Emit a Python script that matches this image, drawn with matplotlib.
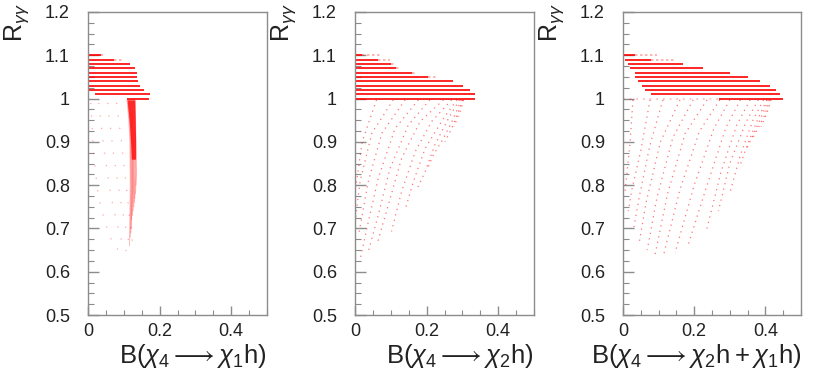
import matplotlib
matplotlib.use("Agg")
import matplotlib.pyplot as plt
from matplotlib.ticker import MultipleLocator, FuncFormatter

plt.rcParams["font.family"] = ["Liberation Sans", "DejaVu Sans"]
plt.rcParams["mathtext.fontset"] = "custom"
plt.rcParams["mathtext.rm"] = "Liberation Sans"
plt.rcParams["mathtext.it"] = "Liberation Sans:italic"
plt.rcParams["mathtext.fallback"] = "stixsans"

# ---------------------------------------------------------------------------
# Data
# ---------------------------------------------------------------------------

LEVELS = [1.00, 1.01, 1.02, 1.03, 1.04, 1.05, 1.06, 1.07, 1.08, 1.09, 1.10]

# horizontal bands: dense part (start / end) and faint tail for each level
P1_START = [0.109, 0.020, 0.0, 0.0, 0.0, 0.0, 0.0, 0.0, 0.0, 0.0, 0.0]
P1_END   = [0.170, 0.173, 0.157, 0.146, 0.140, 0.137, 0.137, 0.132, 0.118, 0.072, 0.035]
P1_TAIL  = [0.170, 0.173, 0.157, 0.146, 0.140, 0.137, 0.137, 0.132, 0.118, 0.095, 0.043]

P2_START = [0.0] * 11
P2_END   = [0.335, 0.335, 0.321, 0.302, 0.274, 0.205, 0.160, 0.115, 0.100, 0.065, 0.020]
P2_TAIL  = [0.335, 0.335, 0.321, 0.302, 0.274, 0.232, 0.172, 0.126, 0.115, 0.098, 0.070]

P3_START = [0.270, 0.079, 0.062, 0.052, 0.043, 0.034, 0.034, 0.020, 0.015, 0.006, 0.0]
P3_END   = [0.449, 0.441, 0.430, 0.413, 0.385, 0.350, 0.300, 0.225, 0.169, 0.080, 0.035]
P3_TAIL  = [0.449, 0.441, 0.430, 0.413, 0.385, 0.350, 0.300, 0.225, 0.169, 0.146, 0.095]
P3_HEAD  = [0.000, 0.079, 0.062, 0.052, 0.043, 0.034, 0.034, 0.020, 0.015, 0.006, 0.0]

# dense bundle of scan curves in the first panel
P1_BAND_X = [
    [0.109, 0.114, 0.117, 0.118, 0.116],
    [0.111, 0.116, 0.119, 0.120, 0.118],
    [0.113, 0.117, 0.120, 0.121, 0.120],
    [0.115, 0.119, 0.122, 0.123, 0.121],
    [0.117, 0.121, 0.123, 0.124, 0.122],
    [0.119, 0.122, 0.124, 0.125, 0.124],
    [0.121, 0.124, 0.126, 0.127, 0.126],
    [0.123, 0.125, 0.127, 0.128, 0.128],
    [0.125, 0.127, 0.129, 0.130, 0.130],
    [0.127, 0.129, 0.131, 0.132, 0.131],
    [0.129, 0.131, 0.133, 0.134, 0.133],
    [0.131, 0.133, 0.134, 0.135, 0.134],
]
P1_BAND_R = [
    [0.997, 0.95, 0.90, 0.80, 0.66],
    [0.997, 0.95, 0.90, 0.80, 0.68],
    [0.997, 0.95, 0.90, 0.80, 0.69],
    [0.997, 0.95, 0.90, 0.80, 0.70],
    [0.997, 0.95, 0.90, 0.80, 0.72],
    [0.997, 0.95, 0.90, 0.80, 0.73],
    [0.997, 0.95, 0.90, 0.80, 0.74],
    [0.997, 0.95, 0.90, 0.81, 0.75],
    [0.997, 0.95, 0.90, 0.81, 0.76],
    [0.997, 0.95, 0.90, 0.82, 0.77],
    [0.997, 0.95, 0.90, 0.82, 0.78],
    [0.997, 0.95, 0.90, 0.83, 0.80],
]
# the dense top part of that bundle (R between ~0.86 and 1)
P1_CORE_X = [[0.109, 0.115, 0.119, 0.121], [0.131, 0.132, 0.133, 0.133]]
P1_CORE_R = [[0.997, 0.95, 0.90, 0.86], [0.997, 0.95, 0.90, 0.86]]

P1_SPARSE_X = [
    [0.008, 0.015, 0.028, 0.047, 0.070, 0.098],
    [0.030, 0.045, 0.065, 0.090, 0.108],
    [0.055, 0.070, 0.090, 0.108, 0.118],
    [0.080, 0.095, 0.108, 0.118, 0.124],
]
P1_SPARSE_R = [
    [0.99, 0.88, 0.777, 0.716, 0.662, 0.640],
    [0.99, 0.88, 0.77, 0.68, 0.645],
    [0.99, 0.88, 0.77, 0.69, 0.655],
    [0.99, 0.89, 0.79, 0.71, 0.67],
]

P2_CURVE_X = [
    [0.303, 0.296, 0.286, 0.276],
    [0.301, 0.289, 0.270, 0.251],
    [0.297, 0.275, 0.247, 0.219, 0.205],
    [0.292, 0.261, 0.223, 0.196, 0.172],
    [0.285, 0.247, 0.196, 0.163, 0.140],
    [0.270, 0.214, 0.168, 0.130, 0.102],
    [0.247, 0.182, 0.130, 0.093, 0.061],
    [0.209, 0.149, 0.098, 0.065, 0.037],
    [0.177, 0.112, 0.065, 0.033, 0.014],
    [0.140, 0.075, 0.037, 0.010],
    [0.107, 0.047, 0.014, 0.001],
    [0.060, 0.020, 0.003],
]
P2_CURVE_R = [
    [0.997, 0.975, 0.955, 0.935],
    [0.997, 0.970, 0.931, 0.900],
    [0.997, 0.954, 0.908, 0.870, 0.843],
    [0.997, 0.954, 0.893, 0.831, 0.789],
    [0.997, 0.954, 0.885, 0.808, 0.743],
    [0.997, 0.947, 0.877, 0.785, 0.693],
    [0.997, 0.947, 0.862, 0.754, 0.662],
    [0.997, 0.939, 0.839, 0.731, 0.646],
    [0.997, 0.931, 0.816, 0.700, 0.627],
    [0.997, 0.920, 0.808, 0.685],
    [0.997, 0.920, 0.808, 0.720],
    [0.997, 0.900, 0.800],
]

P3_CURVE_X = [
    [0.416, 0.408, 0.398, 0.388],
    [0.412, 0.398, 0.379, 0.360],
    [0.408, 0.390, 0.365, 0.345],
    [0.404, 0.380, 0.350, 0.328],
    [0.395, 0.365, 0.330, 0.300],
    [0.380, 0.345, 0.300, 0.268],
    [0.357, 0.320, 0.275, 0.235],
    [0.330, 0.290, 0.240, 0.183],
    [0.300, 0.255, 0.200, 0.146],
    [0.272, 0.215, 0.160, 0.115],
    [0.236, 0.175, 0.125, 0.090],
    [0.197, 0.140, 0.095, 0.068],
    [0.160, 0.105, 0.065, 0.045],
    [0.112, 0.075, 0.045, 0.030],
    [0.076, 0.050, 0.025, 0.015],
    [0.028, 0.020, 0.010, 0.005],
]
P3_CURVE_R = [
    [0.997, 0.975, 0.955, 0.935],
    [0.997, 0.962, 0.931, 0.904],
    [0.997, 0.960, 0.915, 0.880],
    [0.997, 0.955, 0.895, 0.843],
    [0.997, 0.950, 0.870, 0.782],
    [0.997, 0.945, 0.850, 0.740],
    [0.997, 0.940, 0.830, 0.697],
    [0.997, 0.935, 0.810, 0.662],
    [0.997, 0.930, 0.800, 0.643],
    [0.997, 0.925, 0.790, 0.642],
    [0.997, 0.920, 0.780, 0.639],
    [0.997, 0.910, 0.770, 0.650],
    [0.997, 0.900, 0.760, 0.665],
    [0.997, 0.890, 0.770, 0.700],
    [0.997, 0.880, 0.790, 0.740],
    [0.997, 0.900, 0.820, 0.780],
]

XLABELS = [
    r"$\mathrm{B}(\chi_{4} \longrightarrow \chi_{1}\mathrm{h})$",
    r"$\mathrm{B}(\chi_{4} \longrightarrow \chi_{2}\mathrm{h})$",
    r"$\mathrm{B}(\chi_{4} \longrightarrow \chi_{2}\mathrm{h}+\chi_{1}\mathrm{h})$",
]
YLABEL = r"$\mathrm{R}_{\gamma\gamma}$"

FRAME = "#8c8c8c"
TXT = "#222222"


def style_axes(ax, xlabel):
    ax.set_xlim(0, 0.5)
    ax.set_ylim(0.5, 1.2)
    ax.xaxis.set_major_locator(MultipleLocator(0.2))
    ax.xaxis.set_minor_locator(MultipleLocator(0.05))
    ax.yaxis.set_major_locator(MultipleLocator(0.1))
    ax.yaxis.set_minor_locator(MultipleLocator(0.025))
    fmt = FuncFormatter(lambda v, _: f"{v:g}")
    ax.xaxis.set_major_formatter(fmt)
    ax.yaxis.set_major_formatter(fmt)
    for sp in ax.spines.values():
        sp.set_color(FRAME)
        sp.set_linewidth(1.0)
    ax.tick_params(axis="both", which="both", direction="in", color=FRAME,
                   top=False, right=False, labelcolor=TXT, labelsize=13)
    ax.tick_params(axis="y", which="major", length=8, width=1.0, pad=13)
    ax.tick_params(axis="y", which="minor", length=4.5, width=0.8)
    ax.tick_params(axis="x", which="major", length=6.5, width=1.0, pad=6)
    ax.tick_params(axis="x", which="minor", length=3.5, width=0.8)
    ax.text(1.0, -0.135, xlabel, transform=ax.transAxes, ha="right",
            va="center", fontsize=18.5, color=TXT)
    ax.text(-0.40, 1.03, YLABEL, transform=ax.transAxes, ha="center",
            va="top", rotation=90, fontsize=18, color=TXT)


def draw_levels(ax, starts, ends, tails, heads=None):
    # faint dotted tails first, then dense solid part on top
    ax.hlines(LEVELS, ends, tails, color="red", linewidth=1.2, alpha=0.35,
              linestyles=[(0, (1.5, 1.5))])
    if heads is not None:
        ax.hlines(LEVELS, heads, starts, color="red", linewidth=1.2, alpha=0.3,
                  linestyles=[(0, (1, 3))])
    ax.hlines(LEVELS, starts, ends, color="red", linewidth=1.2)


def draw_curves(ax, xs, rs, gap=3.5, alpha=0.55):
    for x, r in zip(xs, rs):
        ax.plot(x, r, color="red", linewidth=0.9, alpha=alpha,
                linestyle=(0, (1, gap)), solid_capstyle="butt")


def draw_band(ax, xs, rs, core_x, core_r):
    for x, r in zip(xs, rs):
        ax.plot(x, r, color="red", linewidth=0.6, alpha=0.3)
    ax.fill_betweenx(core_r[0], core_x[0], core_x[1], color="red",
                     alpha=0.75, linewidth=0)


fig = plt.figure(figsize=(8.17, 3.82), dpi=100)
W, H = 817, 382
boxes = [(88, 179), (355, 179), (623, 178)]
axes = [fig.add_axes([l / W, (H - 315) / H, w / W, 303 / H]) for l, w in boxes]

draw_levels(axes[0], P1_START, P1_END, P1_TAIL)
draw_band(axes[0], P1_BAND_X, P1_BAND_R, P1_CORE_X, P1_CORE_R)
draw_curves(axes[0], P1_SPARSE_X, P1_SPARSE_R, gap=9, alpha=0.35)

draw_levels(axes[1], P2_START, P2_END, P2_TAIL)
draw_curves(axes[1], P2_CURVE_X, P2_CURVE_R)

draw_levels(axes[2], P3_START, P3_END, P3_TAIL, P3_HEAD)
draw_curves(axes[2], P3_CURVE_X, P3_CURVE_R)

for ax, lab in zip(axes, XLABELS):
    style_axes(ax, lab)

fig.savefig("out.png", dpi=100)
